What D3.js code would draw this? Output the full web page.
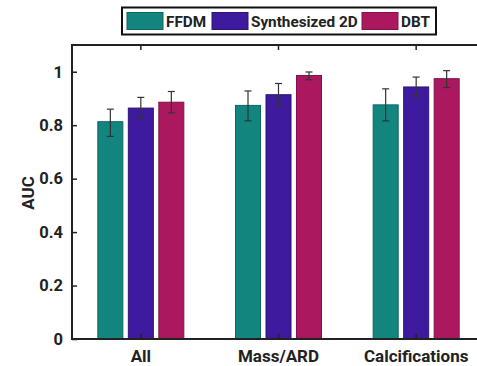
<!DOCTYPE html>
<html>
<head>
<meta charset="utf-8">
<script src="https://cdn.jsdelivr.net/npm/d3@7"></script>
<style>
  body { margin: 0; background: #fff; }
  text { font-family: Roboto, "Noto Sans", sans-serif; font-weight: bold; fill: #222; }
</style>
</head>
<body>
<svg id="chart" width="477" height="366"></svg>
<script>
// data
const categories = ["All", "Mass/ARD", "Calcifications"];
const series = ["FFDM", "Synthesized 2D", "DBT"];
const colors = ["#12857f", "#3d1a9e", "#ab185f"];

const ffdm = [0.813, 0.874, 0.876];
const ffdmLo = [0.758, 0.816, 0.816];
const ffdmHi = [0.860, 0.928, 0.936];

const synth = [0.864, 0.914, 0.943];
const synthLo = [0.825, 0.869, 0.909];
const synthHi = [0.904, 0.956, 0.980];

const dbt = [0.886, 0.986, 0.974];
const dbtLo = [0.846, 0.970, 0.941];
const dbtHi = [0.926, 0.999, 1.004];

const yTicks = [0, 0.2, 0.4, 0.6, 0.8, 1];

const values = [ffdm, synth, dbt];
const lows = [ffdmLo, synthLo, dbtLo];
const highs = [ffdmHi, synthHi, dbtHi];

const svg = d3.select("#chart");
const plotLeft = 72, plotTop = 45, plotRight = 485, plotBottom = 339;

const x0 = d3.scaleBand().domain(categories).range([plotLeft, plotRight]);
const x1 = d3.scaleBand().domain(series).range([-43, 43]).paddingInner(0.18);
const y = d3.scaleLinear().domain([0, 1.1]).range([plotBottom, plotTop]);

// flatten for drawing
const rows = [];
categories.forEach((c, i) => {
  series.forEach((s, j) => {
    rows.push({ cat: c, ser: s, v: values[j][i], lo: lows[j][i], hi: highs[j][i], color: colors[j] });
  });
});

// bars
svg.append("g").selectAll("rect")
  .data(rows)
  .join("rect")
  .attr("x", d => x0(d.cat) + x0.bandwidth() / 2 + x1(d.ser))
  .attr("y", d => y(d.v))
  .attr("width", x1.bandwidth())
  .attr("height", d => y(0) - y(d.v))
  .attr("fill", d => d.color)
  .attr("stroke", d => d3.color(d.color).darker(0.8))
  .attr("stroke-width", 1);

// error bars
const cap = 3.5;
const err = svg.append("g").attr("stroke", "#333").attr("stroke-width", 1.2);
rows.forEach(d => {
  const cx = x0(d.cat) + x0.bandwidth() / 2 + x1(d.ser) + x1.bandwidth() / 2;
  err.append("line").attr("x1", cx).attr("x2", cx).attr("y1", y(d.lo)).attr("y2", y(d.hi));
  err.append("line").attr("x1", cx - cap).attr("x2", cx + cap).attr("y1", y(d.lo)).attr("y2", y(d.lo));
  err.append("line").attr("x1", cx - cap).attr("x2", cx + cap).attr("y1", y(d.hi)).attr("y2", y(d.hi));
});

// axes box
svg.append("rect")
  .attr("x", plotLeft).attr("y", plotTop)
  .attr("width", plotRight - plotLeft).attr("height", plotBottom - plotTop)
  .attr("fill", "none").attr("stroke", "#222").attr("stroke-width", 2);

// y axis (ticks inward)
const yAxis = svg.append("g")
  .attr("transform", `translate(${plotLeft},0)`)
  .call(d3.axisLeft(y).tickValues(yTicks).tickSize(-5).tickPadding(9).tickFormat(d3.format("")));
yAxis.select(".domain").remove();
yAxis.selectAll("line").attr("stroke", "#222").attr("stroke-width", 1.5);
yAxis.selectAll("text").style("font-size", "16.5px").style("font-family", "Roboto, sans-serif").style("font-weight", "bold").attr("fill", "#222");

// x axis bottom (ticks inward)
const xAxis = svg.append("g")
  .attr("transform", `translate(0,${plotBottom})`)
  .call(d3.axisBottom(x0).tickSize(-5).tickPadding(11));
xAxis.select(".domain").remove();
xAxis.selectAll("line").attr("stroke", "#222").attr("stroke-width", 1.5);
xAxis.selectAll("text").style("font-size", "17px").style("font-family", "Roboto, sans-serif").style("font-weight", "bold").attr("fill", "#222");

// top ticks
const xTop = svg.append("g")
  .attr("transform", `translate(0,${plotTop})`)
  .call(d3.axisTop(x0).tickSize(-5).tickFormat(""));
xTop.select(".domain").remove();
xTop.selectAll("line").attr("stroke", "#222").attr("stroke-width", 1.5);

// y label
svg.append("text")
  .attr("transform", "translate(34,193) rotate(-90)")
  .attr("text-anchor", "middle")
  .style("font-size", "17px")
  .text("AUC");

// legend
const legend = svg.append("g");
legend.append("rect")
  .attr("x", 122).attr("y", 7.5).attr("width", 314).attr("height", 27)
  .attr("fill", "#fff").attr("stroke", "#111").attr("stroke-width", 2);
const legendX = [127, 212, 362];
series.forEach((s, j) => {
  legend.append("rect")
    .attr("x", legendX[j]).attr("y", 12.5).attr("width", 36).attr("height", 17)
    .attr("fill", colors[j]).attr("stroke", d3.color(colors[j]).darker(0.8));
  legend.append("text")
    .attr("x", legendX[j] + 39).attr("y", 26.5)
    .style("font-size", "15.3px")
    .text(s);
});
</script>
</body>
</html>
